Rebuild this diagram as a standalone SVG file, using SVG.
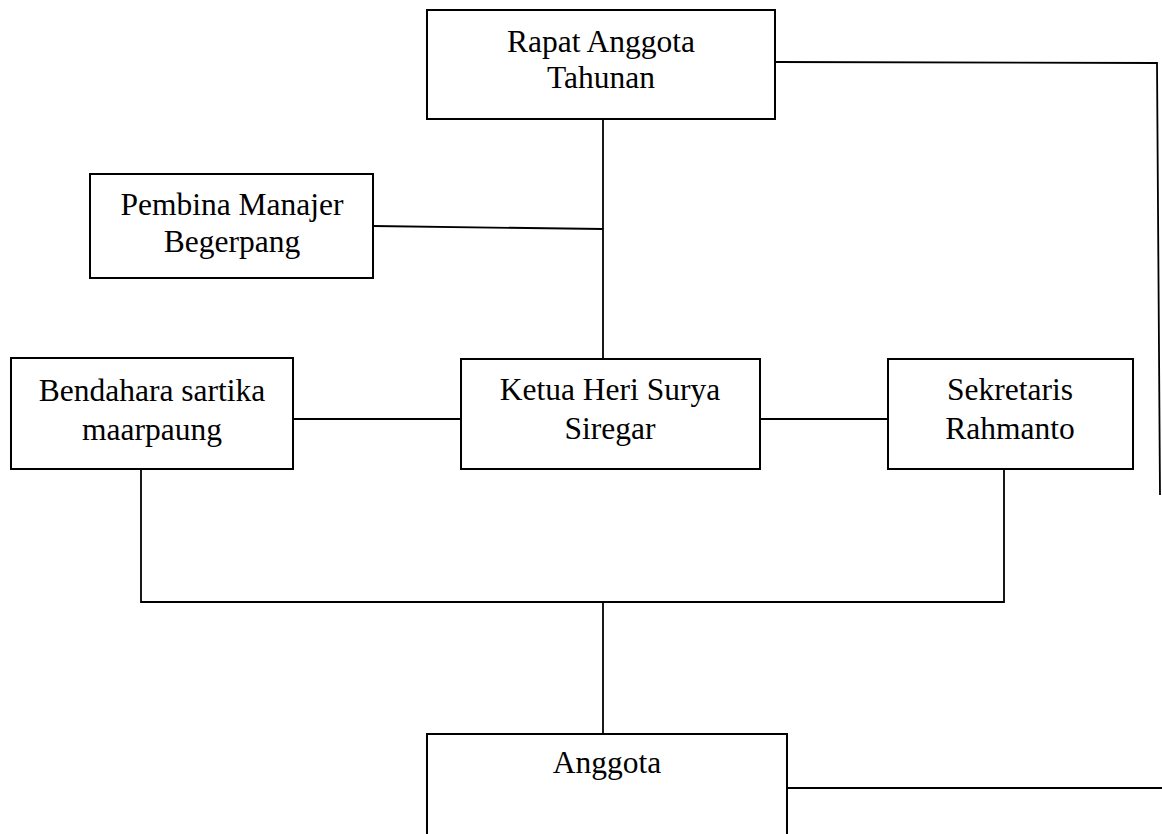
<svg xmlns="http://www.w3.org/2000/svg" width="1162" height="834" viewBox="0 0 1162 834">
<style>
.box{fill:#fff;stroke:#000;stroke-width:2}
.ln{fill:none;stroke:#000;stroke-width:1.8}
text{font-family:"Liberation Serif","Times New Roman",serif;font-size:31.5px;fill:#000;text-anchor:middle}
</style>
<rect width="1162" height="834" fill="#fff"/>
<g id="connectors">
<polyline class="ln" points="775,62 1157,63 1160,495"/>
<line class="ln" x1="603" y1="119" x2="603" y2="359"/>
<line class="ln" x1="373" y1="226" x2="603" y2="229"/>
<line class="ln" x1="293" y1="419" x2="461" y2="419"/>
<line class="ln" x1="760" y1="419" x2="888" y2="419"/>
<polyline class="ln" points="141,470 141,602 1004,602 1004,470"/>
<line class="ln" x1="603" y1="602" x2="603" y2="734"/>
<line class="ln" x1="787" y1="788" x2="1162" y2="788"/>
</g>
<g id="rapat">
<rect class="box" x="427" y="10" width="348" height="109"/>
<text x="601" y="52">Rapat Anggota</text>
<text x="601" y="88">Tahunan</text>
</g>
<g id="pembina">
<rect class="box" x="90" y="174" width="283" height="104"/>
<text x="232" y="215">Pembina Manajer</text>
<text x="232" y="252">Begerpang</text>
</g>
<g id="bendahara">
<rect class="box" x="11" y="358" width="282" height="111"/>
<text x="152" y="401">Bendahara sartika</text>
<text x="152" y="440">maarpaung</text>
</g>
<g id="ketua">
<rect class="box" x="461" y="359" width="299" height="110"/>
<text x="610" y="400">Ketua Heri Surya</text>
<text x="610" y="439">Siregar</text>
</g>
<g id="sekretaris">
<rect class="box" x="888" y="359" width="245" height="110"/>
<text x="1010" y="400">Sekretaris</text>
<text x="1010" y="439">Rahmanto</text>
</g>
<g id="anggota">
<rect class="box" x="427" y="734" width="360" height="110"/>
<text x="607" y="773">Anggota</text>
</g>
</svg>
